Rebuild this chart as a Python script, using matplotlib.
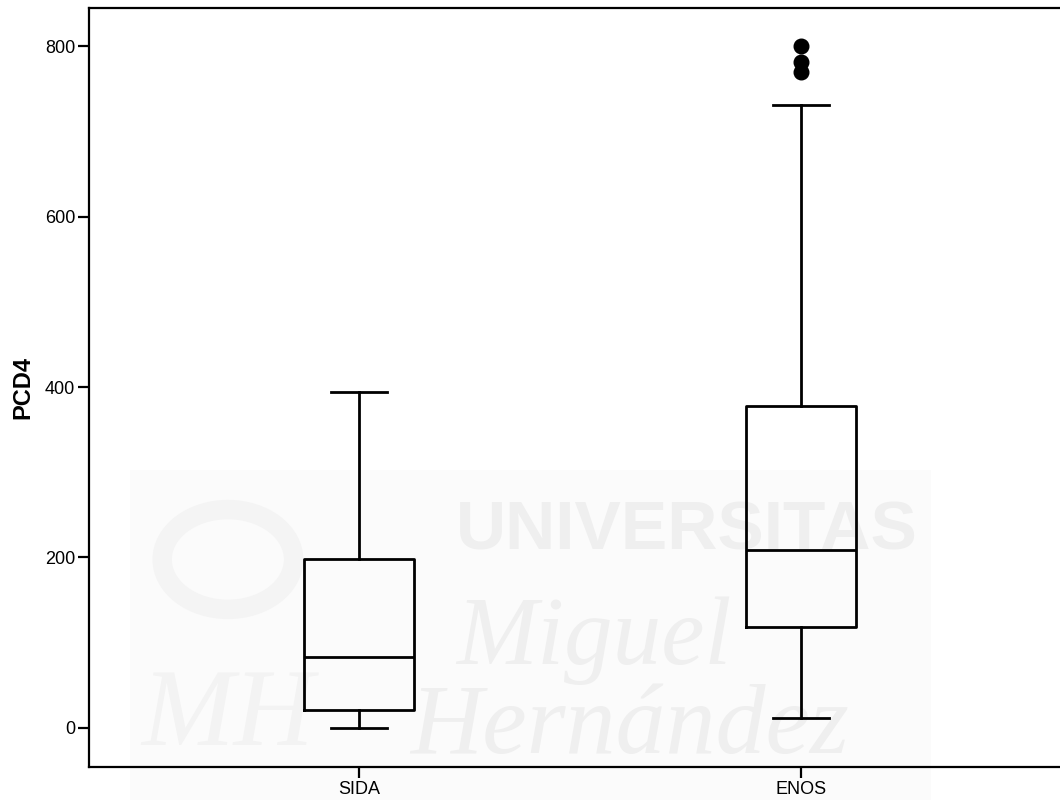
import matplotlib
matplotlib.use("Agg")
import matplotlib.pyplot as plt
from matplotlib.patches import Rectangle, Circle

# Datos del diagrama de cajas (PCD4 por grupo)
grupos = ["SIDA", "ENOS"]
minimos = [0, 11]
q1 = [21, 118]
medianas = [83, 209]
q3 = [198, 378]
maximos = [394, 731]
atipicos = [[], [770, 781, 800]]

plt.rcParams["font.family"] = ["Liberation Sans", "DejaVu Sans"]

fig = plt.figure(figsize=(10.6, 8.05), dpi=100)
ax = fig.add_axes([0.084, 0.0472, 0.9264, 0.943])
ax.set_zorder(2)
ax.patch.set_alpha(0)

# Marca de agua de fondo
gris = "#efefef"
fig.patches.append(Rectangle((0.123, 0.006), 0.755, 0.41, transform=fig.transFigure,
                             facecolor="#fbfbfb", edgecolor="none", zorder=0))
fig.patches.append(Circle((0.215, 0.305), 0.062, transform=fig.transFigure,
                          facecolor="none", edgecolor="#f4f4f4", linewidth=14, zorder=0))
fig.text(0.43, 0.318, "UNIVERSITAS", fontsize=50, fontweight="bold",
         color=gris, zorder=1)
fig.text(0.43, 0.175, "Miguel", fontsize=70, style="italic",
         family="Liberation Serif", color=gris, zorder=1)
fig.text(0.387, 0.064, "Hernández", fontsize=72, style="italic",
         family="Liberation Serif", color=gris, zorder=1)
fig.text(0.215, 0.075, "MH", fontsize=80, style="italic",
         family="Liberation Serif", color="#f3f3f3", ha="center", zorder=1)

stats = []
for i in range(len(grupos)):
    stats.append({"label": grupos[i], "whislo": minimos[i], "q1": q1[i],
                  "med": medianas[i], "q3": q3[i], "whishi": maximos[i],
                  "fliers": atipicos[i]})

linea = {"color": "black", "linewidth": 2.0}
ax.bxp(stats, positions=[1, 2], widths=0.25,
       boxprops=linea, whiskerprops=linea, capprops=linea, medianprops=linea,
       flierprops={"marker": "o", "markerfacecolor": "black",
                   "markeredgecolor": "black", "markersize": 10.5},
       capwidths=0.125)

ax.set_xlim(0.389, 2.611)
ax.set_ylim(-46, 845)
ax.set_yticks([0, 200, 400, 600, 800])
ax.set_xticks([1, 2])
ax.set_xticklabels(grupos)

for lado in ["left", "bottom", "top"]:
    ax.spines[lado].set_linewidth(1.6)
ax.spines["right"].set_visible(False)

ax.tick_params(axis="both", direction="out", length=8, width=1.6,
               labelsize=13, pad=2)
ax.set_ylabel("PCD4", fontsize=17, fontweight="bold")
ax.yaxis.set_label_coords(-0.056, 0.5)

fig.savefig("out.png", dpi=100)
